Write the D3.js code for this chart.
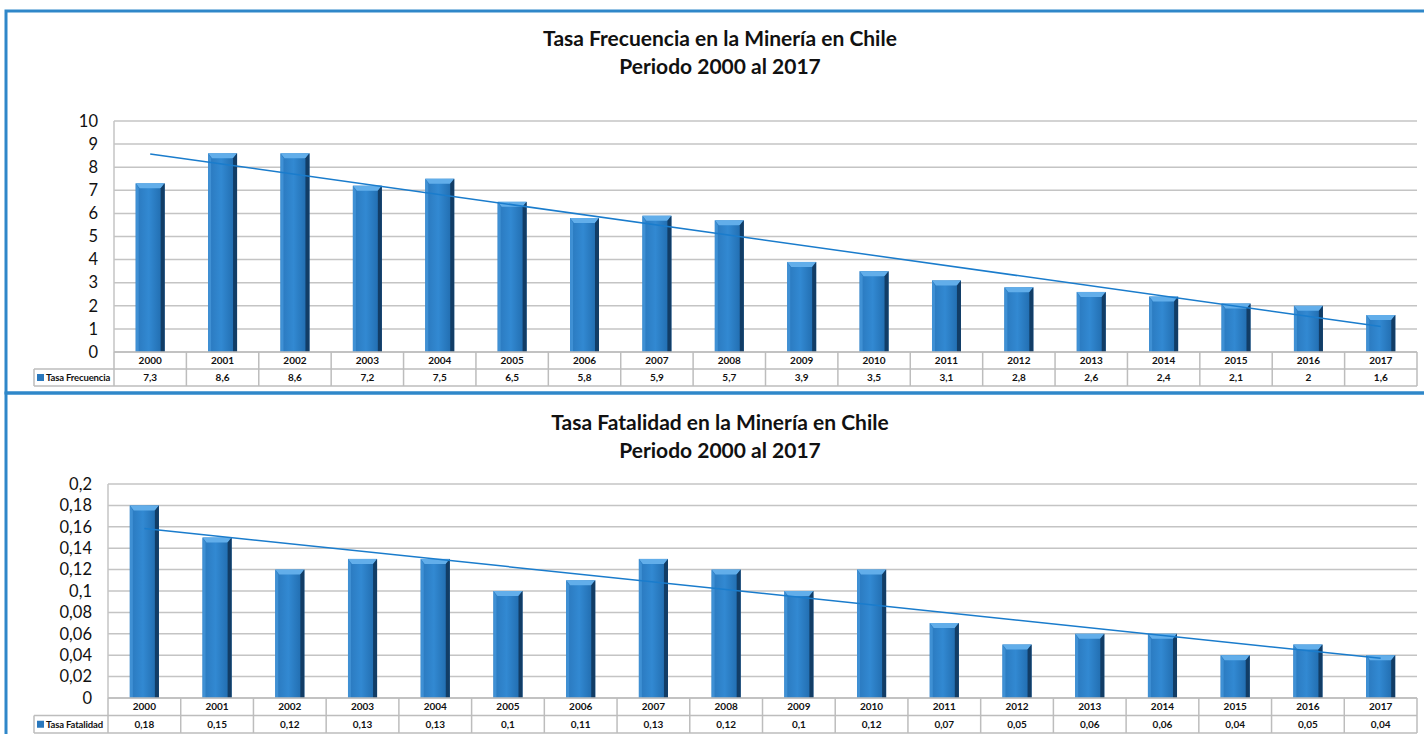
<!DOCTYPE html>
<html>
<head>
<meta charset="utf-8">
<script src="https://cdn.jsdelivr.net/npm/d3@7"></script>
<style>
  body { margin: 0; background: #fff; }
  svg { display: block; font-family: Lato, "Open Sans", sans-serif; }
</style>
</head>
<body>
<div id="chart"></div>
<script>
// data
const years = ["2000","2001","2002","2003","2004","2005","2006","2007","2008",
               "2009","2010","2011","2012","2013","2014","2015","2016","2017"];
const frecuencia = [7.3,8.6,8.6,7.2,7.5,6.5,5.8,5.9,5.7,3.9,3.5,3.1,2.8,2.6,2.4,2.1,2,1.6];
const fatalidad = [0.18,0.15,0.12,0.13,0.13,0.1,0.11,0.13,0.12,0.1,0.12,0.07,0.05,0.06,0.06,0.04,0.05,0.04];
const frecTicks = [0,1,2,3,4,5,6,7,8,9,10];
const fatalTicks = [0,0.02,0.04,0.06,0.08,0.1,0.12,0.14,0.16,0.18,0.2];

const W = 1424, H = 734;
const svg = d3.select("#chart").append("svg")
  .attr("width", W).attr("height", H);

const defs = svg.append("defs");
let face = defs.append("linearGradient").attr("id", "face")
  .attr("x1", "0").attr("x2", "1").attr("y1", "0").attr("y2", "0");
face.append("stop").attr("offset", "0%").attr("stop-color", "#2a78bd");
face.append("stop").attr("offset", "45%").attr("stop-color", "#3289d2");
face.append("stop").attr("offset", "100%").attr("stop-color", "#1e67a8");

// comma decimal
const fmt = v => String(+v.toFixed(2)).replace(".", ",");

// panel borders
svg.append("rect").attr("x", 6).attr("y", 11).attr("width", W).attr("height", 382)
  .attr("fill", "none").attr("stroke", "#2f87c9").attr("stroke-width", 3);
svg.append("rect").attr("x", 6).attr("y", 393).attr("width", W).attr("height", 400)
  .attr("fill", "none").attr("stroke", "#2f87c9").attr("stroke-width", 3);

function drawChart(cfg) {
  const g = svg.append("g");

  // title
  cfg.title.forEach((t, i) => {
    g.append("text")
      .attr("x", 720).attr("y", cfg.titleY + i * 28)
      .attr("text-anchor", "middle")
      .attr("font-size", 21).attr("font-weight", "bold")
      .attr("fill", "#111")
      .text(t);
  });

  var x = d3.scaleBand()
    .domain(years)
    .range([cfg.left, cfg.right])
    .paddingInner(0).paddingOuter(0);
  var y = d3.scaleLinear()
    .domain([0, d3.max(cfg.ticks)])
    .range([cfg.bottom, cfg.top]);

  // gridlines
  g.selectAll(".grid")
    .data(cfg.ticks)
    .enter().append("line")
      .attr("x1", cfg.left).attr("x2", cfg.right)
      .attr("y1", d => y(d)).attr("y2", d => y(d))
      .attr("stroke", "#c4c4c4").attr("stroke-width", 1.5);

  // left axis line
  g.append("line")
    .attr("x1", cfg.left).attr("x2", cfg.left)
    .attr("y1", cfg.top).attr("y2", cfg.bottom)
    .attr("stroke", "#c4c4c4").attr("stroke-width", 1.5);

  // y tick labels
  g.selectAll(".ylab")
    .data(cfg.ticks)
    .enter().append("text")
      .attr("x", cfg.left - 16)
      .attr("y", d => y(d))
      .attr("dy", "0.35em")
      .attr("text-anchor", "end")
      .attr("font-size", 16.5)
      .attr("fill", "#111")
      .text(fmt);

  // bars with bevel
  const bw = x.bandwidth() * 0.4;
  const b = 4;
  const bars = g.selectAll(".bar")
    .data(cfg.values)
    .enter().append("g");
  bars.each(function(v, i) {
    const sel = d3.select(this);
    const x0 = x(years[i]) + (x.bandwidth() - bw) / 2;
    const x1 = x0 + bw;
    const y0 = y(v), y1 = y(0);
    sel.append("rect")
      .attr("x", x0).attr("y", y0).attr("width", bw).attr("height", y1 - y0)
      .attr("fill", "url(#face)");
    // top bevel
    sel.append("polygon")
      .attr("points", [[x0, y0], [x1, y0], [x1 - b, y0 + b + 1], [x0 + b, y0 + b + 1]].join(" "))
      .attr("fill", "#62aeea");
    // left bevel
    sel.append("polygon")
      .attr("points", [[x0, y0], [x0 + b - 1, y0 + b + 1], [x0 + b - 1, y1], [x0, y1]].join(" "))
      .attr("fill", "#3f90d4");
    // right bevel
    sel.append("polygon")
      .attr("points", [[x1, y0], [x1 - b, y0 + b + 1], [x1 - b, y1], [x1, y1]].join(" "))
      .attr("fill", "#123d66");
  });

  // linear trend line (least squares)
  const n = cfg.values.length;
  const xm = d3.mean(d3.range(n)), ym = d3.mean(cfg.values);
  const sxy = d3.sum(cfg.values, (v, i) => (i - xm) * (v - ym));
  const sxx = d3.sum(d3.range(n), i => (i - xm) * (i - xm));
  const slope = sxy / sxx, icpt = ym - slope * xm;
  const cx = i => x(years[i]) + x.bandwidth() / 2;
  g.append("line")
    .attr("x1", cx(0)).attr("y1", y(icpt))
    .attr("x2", cx(n - 1)).attr("y2", y(icpt + slope * (n - 1)))
    .attr("stroke", "#1a7ccc").attr("stroke-width", 1.5);

  // data table
  const rowH = cfg.rowH;
  const t0 = cfg.bottom, t1 = t0 + rowH, t2 = t1 + rowH;
  const lineCol = "#bdbdbd";
  const tbl = g.append("g").attr("stroke", lineCol).attr("stroke-width", 1.5);
  tbl.append("line").attr("x1", cfg.left).attr("x2", cfg.right).attr("y1", t0).attr("y2", t0);
  tbl.append("line").attr("x1", cfg.labelX).attr("x2", cfg.right).attr("y1", t1).attr("y2", t1);
  tbl.append("line").attr("x1", cfg.labelX).attr("x2", cfg.right).attr("y1", t2).attr("y2", t2);
  tbl.append("line").attr("x1", cfg.labelX).attr("x2", cfg.labelX).attr("y1", t1).attr("y2", t2);
  tbl.selectAll(".vl")
    .data(years)
    .enter().append("line")
      .attr("x1", d => x(d)).attr("x2", d => x(d))
      .attr("y1", t0).attr("y2", t2);
  tbl.append("line").attr("x1", cfg.right).attr("x2", cfg.right).attr("y1", t0).attr("y2", t2);

  g.selectAll(".cat")
    .data(years)
    .enter().append("text")
      .attr("x", d => x(d) + x.bandwidth() / 2)
      .attr("y", (t0 + t1) / 2)
      .attr("dy", "0.35em")
      .attr("text-anchor", "middle")
      .attr("font-size", 10).attr("font-weight", "bold")
      .attr("fill", "#111")
      .text(d => d);
  g.selectAll(".val")
    .data(cfg.values)
    .enter().append("text")
      .attr("x", (d, i) => x(years[i]) + x.bandwidth() / 2)
      .attr("y", (t1 + t2) / 2)
      .attr("dy", "0.35em")
      .attr("text-anchor", "middle")
      .attr("font-size", 10).attr("font-weight", "bold")
      .attr("fill", "#111")
      .text(fmt);

  // legend key + row label
  g.append("rect")
    .attr("x", cfg.labelX + 3).attr("y", (t1 + t2) / 2 - 3.5)
    .attr("width", 7).attr("height", 7)
    .attr("fill", "#2a78bd");
  g.append("text")
    .attr("x", cfg.labelX + 12).attr("y", (t1 + t2) / 2)
    .attr("dy", "0.35em")
    .attr("font-size", 9.5).attr("font-weight", "bold")
    .attr("letter-spacing", -0.15)
    .attr("fill", "#111")
    .text(cfg.label);
}

drawChart({
  title: ["Tasa Frecuencia en la Minería en Chile", "Periodo 2000 al 2017"],
  titleY: 46,
  values: frecuencia,
  ticks: frecTicks,
  label: "Tasa Frecuencia",
  left: 114, right: 1417, top: 121, bottom: 352,
  labelX: 34, rowH: 17
});

drawChart({
  title: ["Tasa Fatalidad en la Minería en Chile", "Periodo 2000 al 2017"],
  titleY: 430,
  values: fatalidad,
  ticks: fatalTicks,
  label: "Tasa Fatalidad",
  left: 108, right: 1417, top: 484, bottom: 698,
  labelX: 34, rowH: 17.5
});
</script>
</body>
</html>
